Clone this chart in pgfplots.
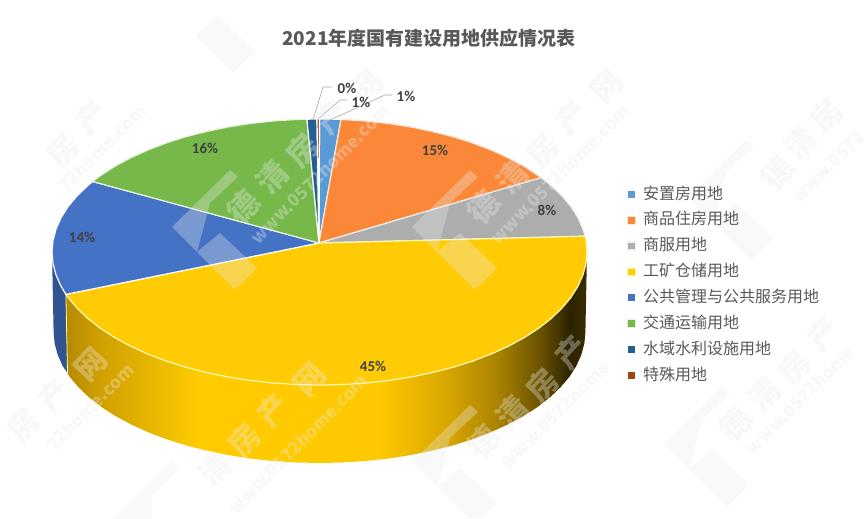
\documentclass[border=0pt]{standalone}
\usepackage{fontspec}
\setmainfont{Noto Sans CJK SC}
\newfontfamily\pct{Carlito}
\usepackage{pgfplots}
\pgfplotsset{compat=1.18}
\definecolor{cLightBlue}{HTML}{5B9BD5}
\definecolor{cOrange}{HTML}{FA8838}
\definecolor{cGray}{HTML}{ADADAD}
\definecolor{cYellow}{HTML}{FFCB05}
\definecolor{cBlue}{HTML}{4472C4}
\definecolor{cGreen}{HTML}{76B84A}
\definecolor{cNavy}{HTML}{255E91}
\definecolor{cBrown}{HTML}{9E480E}
\definecolor{cWallBlue}{HTML}{2F5491}
\definecolor{cText}{HTML}{595959}
\definecolor{cLabel}{HTML}{404040}
\definecolor{goldA}{HTML}{B48A00}
\definecolor{goldB}{HTML}{D09F00}
\definecolor{goldC}{HTML}{FFCC00}
\definecolor{goldD}{HTML}{FFC800}
\definecolor{goldE}{HTML}{D6A400}
\definecolor{goldF}{HTML}{A88200}
\definecolor{goldG}{HTML}{6A5200}
\definecolor{goldH}{HTML}{2C2200}
\definecolor{goldI}{HTML}{3A2D00}
\pgfdeclarehorizontalshading{goldwall}{100bp}{
  color(0bp)=(goldA); color(25bp)=(goldA); color(28.25bp)=(goldB); color(37.85bp)=(goldC);
  color(55bp)=(goldD); color(61.85bp)=(goldE); color(66.5bp)=(goldF); color(70.5bp)=(goldG);
  color(73.35bp)=(goldH); color(75bp)=(goldI); color(100bp)=(goldI)}
\tikzset{
  pctlabel/.style={font=\pct\bfseries\fontsize{15}{15}\selectfont, text=cLabel, inner sep=0pt},
  wm/.style={text=white!93!black, opacity=0.34, inner sep=0pt, rotate=47, font=\bfseries\fontsize{31}{31}\selectfont},
  wmurl/.style={text=white!93!black, opacity=0.34, inner sep=0pt, rotate=45, font=\bfseries\fontsize{17.5}{17.5}\selectfont},
  wmlogo/.style={draw=none, fill=white!93!black, fill opacity=0.32},
}
\begin{document}
\begin{tikzpicture}
\begin{axis}[
    scale only axis,
    width=867pt, height=519pt,
    xmin=0, xmax=867, ymin=0, ymax=519,
    y dir=reverse,
    hide axis,
    clip=false,
    legend cell align=left,
    legend image code/.code={\fill[#1] (0pt,-4pt) rectangle (8pt,4pt);},
    legend style={
      at={(axis cs:627,186)}, anchor=north west, draw=none, fill=none,
      inner sep=0pt, outer sep=0pt,
      font=\fontsize{16}{16}\selectfont, text=cText,
      row sep=9.5pt,
      nodes={inner sep=0pt, text height=13pt, text depth=3.4pt},
      /tikz/every odd column/.append style={column sep=7pt},
    },
]
% page
\addplot[draw=none, fill=white, forget plot] coordinates {(0,0) (867,0) (867,519) (0,519)} --cycle;

% side wall, blue part
\addplot[draw=none, fill=cWallBlue, forget plot] coordinates {
  (52.0,252.0) (53.0,263.6) (56.1,275.1) (61.1,286.4) (65.9,294.4)
  (67.5,373) (62.6,365.9) (57.7,354.8) (54.6,343.4) (53.6,332)
} --cycle;
% side wall, yellow part
\addplot[draw=none, shade, shading=goldwall, forget plot] coordinates {
  (65.9,294.4) (68.1,297.5) (77.1,308.2) (87.8,318.5) (100.4,328.3) (114.6,337.5) (130.3,346.0)
  (147.6,353.9) (166.1,361.0) (185.7,367.2) (206.5,372.5) (228.0,377.0) (250.3,380.5) (273.1,383.0)
  (296.2,384.5) (319.5,385) (342.8,384.5) (365.9,383.0) (388.7,380.5) (411.0,377.0) (432.5,372.5)
  (453.3,367.2) (472.9,361.0) (491.4,353.9) (508.7,346.0) (524.4,337.5) (538.6,328.3) (551.2,318.5)
  (561.9,308.2) (570.9,297.5) (577.9,286.4) (582.9,275.1) (586.0,263.6) (587.0,252.0)
  (585.4,332) (584.4,343.4) (581.3,354.8) (576.4,365.9) (569.4,376.8) (560.4,387.4) (549.8,397.5)
  (537.3,407.2) (523.2,416.2) (507.6,424.6) (490.4,432.4) (472.0,439.4) (452.5,445.5) (431.8,450.7)
  (410.5,455.1) (388.3,458.6) (365.6,461.0) (342.7,462.5) (319.5,463) (296.3,462.5) (273.4,461.0)
  (250.7,458.6) (228.5,455.1) (207.2,450.7) (186.5,445.5) (167.0,439.4) (148.6,432.4) (131.4,424.6)
  (115.8,416.2) (101.7,407.2) (89.2,397.5) (78.6,387.4) (69.6,376.8) (67.5,373)
} --cycle;
\addplot[draw=white!60!yellow, line width=0.8pt, forget plot] coordinates {(65.9,294.4) (67.5,373)};

% top face, in legend order
\addplot[draw=white, line width=1.2pt, fill=cLightBlue] coordinates {
  (319,243) (319.5,119) (330,119.1) (341,119.4)
} --cycle;
\addlegendentry{安置房用地}
\addplot[draw=white!80!cOrange, line width=1.2pt, fill=cOrange] coordinates {
  (319,243) (341,119.4) (365.9,121.0) (388.7,123.5) (411.0,127.0) (432.5,131.5) (453.3,136.8)
  (472.9,143.0) (491.4,150.1) (508.7,158.0) (524.4,166.5) (541.3,177.6)
} --cycle;
\addlegendentry{商品住房用地}
\addplot[draw=white!80!cGray, line width=1.2pt, fill=cGray] coordinates {
  (319,243) (541.3,177.6) (551.2,185.5) (561.9,195.8) (570.9,206.5) (577.9,217.6) (582.9,228.9)
  (585.1,236.2)
} --cycle;
\addlegendentry{商服用地}
\addplot[draw=white!70!yellow, line width=1.2pt, fill=cYellow] coordinates {
  (319,243) (585.1,236.2) (586.0,240.4) (587.0,252.0) (586.0,263.6) (582.9,275.1) (577.9,286.4)
  (570.9,297.5) (561.9,308.2) (551.2,318.5) (538.6,328.3) (524.4,337.5) (508.7,346.0) (491.4,353.9)
  (472.9,361.0) (453.3,367.2) (432.5,372.5) (411.0,377.0) (388.7,380.5) (365.9,383.0) (342.8,384.5)
  (319.5,385) (296.2,384.5) (273.1,383.0) (250.3,380.5) (228.0,377.0) (206.5,372.5) (185.7,367.2)
  (166.1,361.0) (147.6,353.9) (130.3,346.0) (114.6,337.5) (100.4,328.3) (87.8,318.5) (77.1,308.2)
  (68.1,297.5) (65.9,294.4)
} --cycle;
\addlegendentry{工矿仓储用地}
\addplot[draw=white, line width=1.2pt, fill=cBlue] coordinates {
  (319,243) (65.9,294.4) (61.1,286.4) (56.1,275.1) (53.0,263.6) (52.0,252.0) (53.0,240.4) (56.1,228.9)
  (61.1,217.6) (68.1,206.5) (77.1,195.8) (87.8,185.5) (92.6,181.5)
} --cycle;
\addlegendentry{公共管理与公共服务用地}
\addplot[draw=white!80!cGreen, line width=1.2pt, fill=cGreen] coordinates {
  (319,243) (92.6,181.5) (100.4,175.7) (114.6,166.5) (130.3,158.0) (147.6,150.1) (166.1,143.0)
  (185.7,136.8) (206.5,131.5) (228.0,127.0) (250.3,123.5) (273.1,121.0) (296.2,119.5) (306.9,119.2)
} --cycle;
\addlegendentry{交通运输用地}
\addplot[draw=white, line width=1.2pt, fill=cNavy] coordinates {
  (319,243) (306.9,119.2) (312,119.1) (317,119)
} --cycle;
\addlegendentry{水域水利设施用地}
\addplot[draw=white, line width=1.2pt, fill=cBrown] coordinates {
  (319,243) (317,119) (319.5,119)
} --cycle;
\addlegendentry{特殊用地}

% leader lines
\addplot[draw=gray!70, line width=0.6pt, forget plot] coordinates {(332,87) (323,87) (313,120)};
\addplot[draw=gray!70, line width=0.6pt, forget plot] coordinates {(347,100) (340,100) (317,120)};
\addplot[draw=gray!70, line width=0.6pt, forget plot] coordinates {(392,95) (385,95) (330,120)};

% watermark logos
\addplot[wmlogo, forget plot] coordinates {(230,170) (172,227) (197,252) (210,203) (238,177)} --cycle;
\addplot[wmlogo, forget plot] coordinates {(220,233) (257,268) (235,290) (197,252)} --cycle;
\addplot[wmlogo, forget plot] coordinates {(470,170) (412,227) (437,252) (450,203) (478,177)} --cycle;
\addplot[wmlogo, forget plot] coordinates {(460,233) (497,268) (475,290) (437,252)} --cycle;
\addplot[wmlogo, forget plot] coordinates {(746,140) (688,197) (713,222) (726,173) (754,147)} --cycle;
\addplot[wmlogo, forget plot] coordinates {(736,203) (773,238) (751,260) (713,222)} --cycle;
\addplot[wmlogo, forget plot] coordinates {(470,405) (412,462) (437,487) (450,438) (478,412)} --cycle;
\addplot[wmlogo, forget plot] coordinates {(460,468) (497,503) (482,518) (468,518) (437,487)} --cycle;
\addplot[wmlogo, forget plot] coordinates {(722,387) (664,444) (689,469) (702,420) (730,394)} --cycle;
\addplot[wmlogo, forget plot] coordinates {(712,450) (749,485) (727,507) (689,469)} --cycle;
\addplot[wmlogo, forget plot] coordinates {(172,462) (114,519) (152,519) (152,495) (180,469)} --cycle;
\addplot[wmlogo, forget plot] coordinates {(218,16) (255,51) (233,73) (195,35)} --cycle;

% watermark text
\node[wm] at (axis cs:243,207) {德};
\node[wm] at (axis cs:272,177) {清};
\node[wm] at (axis cs:303,150) {房};
\node[wm] at (axis cs:332,117) {产};
\node[wm] at (axis cs:367,87) {网};
\node[wmurl] at (axis cs:320,174) {www.0572home.com};
\node[wm] at (axis cs:483,207) {德};
\node[wm] at (axis cs:512,177) {清};
\node[wm] at (axis cs:543,150) {房};
\node[wm] at (axis cs:572,117) {产};
\node[wm] at (axis cs:607,87) {网};
\node[wmurl] at (axis cs:560,174) {www.0572home.com};
\node[wm] at (axis cs:777,173) {德};
\node[wm] at (axis cs:800,143) {清};
\node[wm] at (axis cs:827,115) {房};
\node[wmurl] at (axis cs:828,167) {www.0572};
\node[wm] at (axis cs:63,150) {房};
\node[wm] at (axis cs:92,117) {产};
\node[wmurl] at (axis cs:102,148) {72home.com};
\node[wm] at (axis cs:483,442) {德};
\node[wm] at (axis cs:512,412) {清};
\node[wm] at (axis cs:543,385) {房};
\node[wm] at (axis cs:572,352) {产};
\node[wmurl] at (axis cs:555,415) {www.0572home};
\node[wm] at (axis cs:214,469) {清};
\node[wm] at (axis cs:245,440) {房};
\node[wm] at (axis cs:274,410) {产};
\node[wm] at (axis cs:310,380) {网};
\node[wmurl] at (axis cs:298,444) {www.0572home.com};
\node[wm] at (axis cs:24,425) {房};
\node[wm] at (axis cs:55,395) {产};
\node[wm] at (axis cs:91,365) {网};
\node[wmurl] at (axis cs:90,407) {72home.com};
\node[wm] at (axis cs:735,424) {德};
\node[wm] at (axis cs:764,394) {清};
\node[wm] at (axis cs:795,367) {房};
\node[wm] at (axis cs:824,334) {产};
\node[wmurl] at (axis cs:800,400) {www.0572home};

% title and labels
\node[font=\bfseries\fontsize{19}{19}\selectfont, text=cText, inner sep=0pt] at (axis cs:429,38) {2021年度国有建设用地供应情况表};
\node[pctlabel] at (axis cs:347,88) {0\%};
\node[pctlabel] at (axis cs:361,102) {1\%};
\node[pctlabel] at (axis cs:406,96) {1\%};
\node[pctlabel] at (axis cs:435,150) {15\%};
\node[pctlabel] at (axis cs:547,210) {8\%};
\node[pctlabel] at (axis cs:373,366) {45\%};
\node[pctlabel] at (axis cs:82,237) {14\%};
\node[pctlabel] at (axis cs:205,148) {16\%};
\end{axis}
\end{tikzpicture}
\end{document}
